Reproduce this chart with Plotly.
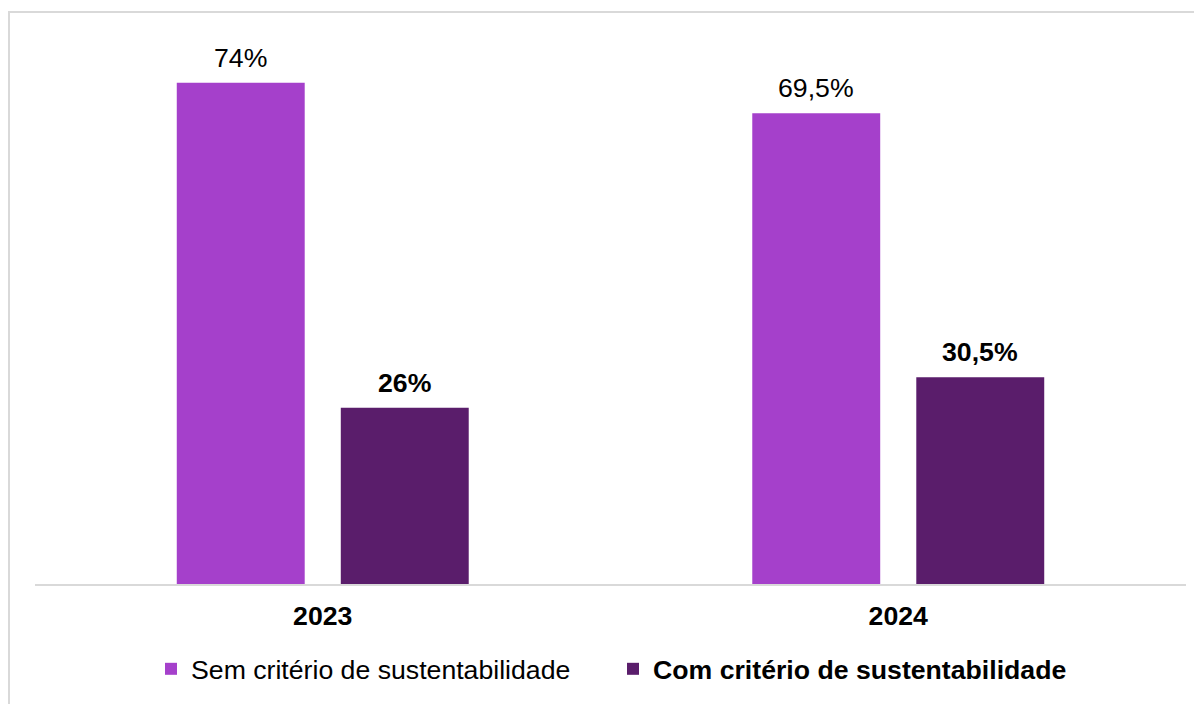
import plotly.graph_objects as go

categories = ["2023", "2024"]
sem_values = [74, 69.5]
com_values = [26, 30.5]
sem_labels = ["74%", "69,5%"]
com_labels = ["26%", "30,5%"]
series_names = ["Sem critério de sustentabilidade", "<b>Com critério de sustentabilidade</b>"]

FONT = "Arial, Liberation Sans, sans-serif"
FS = 26.67
C_SEM = "#A540CB"
C_COM = "#5A1D6B"
BARGAP = 0.43
GROUPGAP = 0.22

fig = go.Figure()
fig.add_trace(go.Bar(x=categories, y=sem_values, name=series_names[0],
                     marker=dict(color=C_SEM, line=dict(width=0))))
fig.add_trace(go.Bar(x=categories, y=com_values, name=series_names[1],
                     marker=dict(color=C_COM, line=dict(width=0))))

off = (1 - BARGAP) / 4
for i, cat in enumerate(categories):
    fig.add_annotation(x=i - off, y=sem_values[i], xref="x", yref="y", text=sem_labels[i],
                       showarrow=False, yanchor="bottom", yshift=8,
                       font=dict(family=FONT, size=FS, color="#000000"))
    fig.add_annotation(x=i + off, y=com_values[i], xref="x", yref="y", text="<b>" + com_labels[i] + "</b>",
                       showarrow=False, yanchor="bottom", yshift=8,
                       font=dict(family=FONT, size=FS, color="#000000"))

fig.add_shape(type="rect", xref="paper", yref="paper", x0=-0.0226, x1=1.1, y0=-0.4, y1=1.0554,
              line=dict(color="#D9D9D9", width=2), fillcolor="rgba(0,0,0,0)", layer="below")

fig.update_layout(
    width=1194, height=696,
    margin=dict(l=27, r=16, t=34, b=120, autoexpand=False),
    paper_bgcolor="white", plot_bgcolor="white",
    barmode="group", bargap=BARGAP, bargroupgap=GROUPGAP,
    font=dict(family=FONT, size=FS, color="#000000"),
    showlegend=True,
    legend=dict(orientation="h", x=0.1008, xanchor="left", y=-0.1125, yanchor="top",
                font=dict(family=FONT, size=FS, color="#000000"), traceorder="normal",
                itemwidth=30, entrywidth=417, entrywidthmode="pixels"),
    xaxis=dict(type="category", showline=True, linecolor="#D9D9D9", linewidth=2,
               showgrid=False, ticks="", tickfont=dict(family=FONT, size=FS, color="#000000"),
               tickprefix="<b>", ticksuffix="</b>", ticklabelstandoff=7, automargin=False),
    yaxis=dict(range=[0, 80], visible=False, showgrid=False, zeroline=False),
)

fig.write_html("out.html")
